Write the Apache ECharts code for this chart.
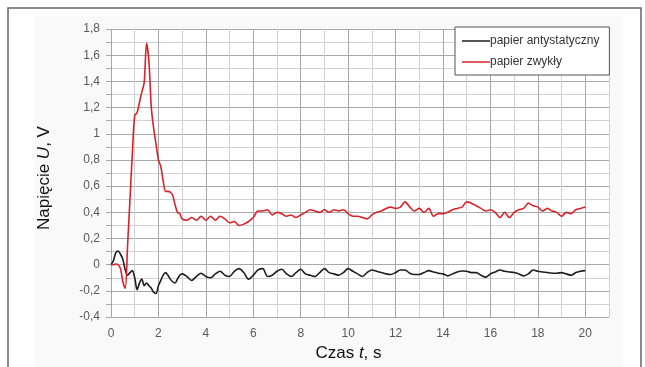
<!DOCTYPE html>
<html>
<head>
<meta charset="utf-8">
<script src="https://cdn.jsdelivr.net/npm/echarts@6/dist/echarts.min.js"></script>
<style>
  html, body { margin: 0; padding: 0; background: #fff; }
  #chart { width: 645px; height: 367px; }
</style>
</head>
<body>
<div id="chart"></div>
<script>
// time axis (s): 0.1 s step to 3 s, then 0.2 s
const times = [
  0, 0.1, 0.2, 0.3, 0.4, 0.5, 0.6, 0.7, 0.8, 0.9,
  1.0, 1.1, 1.2, 1.3, 1.4, 1.5, 1.6, 1.7, 1.8, 1.9,
  2.0, 2.1, 2.2, 2.3, 2.4, 2.5, 2.6, 2.7, 2.8, 2.9, 3.0,
  3.2, 3.4, 3.6, 3.8, 4.0, 4.2, 4.4, 4.6, 4.8, 5.0,
  5.2, 5.4, 5.6, 5.8, 6.0, 6.2, 6.4, 6.6, 6.8, 7.0,
  7.2, 7.4, 7.6, 7.8, 8.0, 8.2, 8.4, 8.6, 8.8, 9.0,
  9.2, 9.4, 9.6, 9.8, 10.0, 10.2, 10.4, 10.6, 10.8, 11.0,
  11.2, 11.4, 11.6, 11.8, 12.0, 12.2, 12.4, 12.6, 12.8, 13.0,
  13.2, 13.4, 13.6, 13.8, 14.0, 14.2, 14.4, 14.6, 14.8, 15.0,
  15.2, 15.4, 15.6, 15.8, 16.0, 16.2, 16.4, 16.6, 16.8, 17.0,
  17.2, 17.4, 17.6, 17.8, 18.0, 18.2, 18.4, 18.6, 18.8, 19.0,
  19.2, 19.4, 19.6, 19.8, 20.0
];

// papier antystatyczny (V)
const antystatyczny = [
  0.0, 0.03, 0.09, 0.105, 0.08, 0.04, -0.04, -0.08, -0.06, -0.045,
  -0.1, -0.19, -0.14, -0.11, -0.16, -0.14, -0.16, -0.18, -0.21, -0.22,
  -0.16, -0.12, -0.08, -0.06, -0.08, -0.11, -0.13, -0.14, -0.11, -0.08, -0.07,
  -0.09, -0.12, -0.09, -0.065, -0.09, -0.1, -0.07, -0.05, -0.08, -0.09,
  -0.05, -0.03, -0.06, -0.11, -0.08, -0.04, -0.03, -0.09, -0.08, -0.05,
  -0.035, -0.07, -0.09, -0.06, -0.035, -0.07, -0.08, -0.09, -0.06, -0.03,
  -0.06, -0.07, -0.08, -0.06, -0.03, -0.05, -0.07, -0.09, -0.06, -0.04,
  -0.05, -0.06, -0.07, -0.075, -0.06, -0.04, -0.04, -0.065, -0.075, -0.075,
  -0.06, -0.045, -0.055, -0.065, -0.07, -0.085, -0.07, -0.055, -0.048, -0.05,
  -0.06, -0.06, -0.08, -0.095, -0.07, -0.055, -0.04, -0.05, -0.055, -0.06,
  -0.07, -0.085, -0.07, -0.04, -0.05, -0.055, -0.06, -0.065, -0.065, -0.06,
  -0.07, -0.08, -0.06, -0.05, -0.045
];

// papier zwykły (V)
const zwykly = [
  0.0, 0.0, 0.005, 0.0, -0.03, -0.13, -0.18, 0.15, 0.5, 0.85,
  1.14, 1.16, 1.24, 1.32, 1.39, 1.69, 1.55, 1.2, 1.04, 0.92,
  0.8, 0.75, 0.64, 0.56, 0.56, 0.555, 0.53, 0.46, 0.4, 0.39, 0.35,
  0.34, 0.36, 0.34, 0.37, 0.34, 0.37, 0.34, 0.37, 0.35, 0.32,
  0.33, 0.30, 0.31, 0.33, 0.36, 0.41, 0.41, 0.42, 0.38, 0.40,
  0.39, 0.37, 0.38, 0.36, 0.38, 0.40, 0.42, 0.41, 0.40, 0.42,
  0.40, 0.42, 0.41, 0.42, 0.39, 0.37, 0.37, 0.36, 0.35, 0.38,
  0.40, 0.41, 0.43, 0.44, 0.43, 0.44, 0.48, 0.44, 0.41, 0.43,
  0.40, 0.43, 0.37, 0.39, 0.39, 0.40, 0.42, 0.43, 0.44, 0.48,
  0.47, 0.45, 0.43, 0.41, 0.42, 0.40, 0.36, 0.40, 0.36, 0.40,
  0.42, 0.43, 0.47, 0.45, 0.44, 0.41, 0.43, 0.41, 0.40, 0.37,
  0.40, 0.39, 0.42, 0.43, 0.44
];

const seriesNames = ['papier antystatyczny', 'papier zwykły'];
const xMin = 0, xMax = 21, xLabelMax = 20;
const yMin = -0.4, yMax = 1.8;

const pair = (ys) => times.map((t, i) => [t, ys[i]]);
const labelFont = "'Liberation Sans Narrow', 'Liberation Sans', sans-serif";

const chart = echarts.init(document.getElementById('chart'));
chart.setOption({
  animation: false,
  backgroundColor: '#fff',
  graphic: [
    { type: 'rect', shape: { x: 8, y: 8, width: 633, height: 370 }, style: { fill: 'none', stroke: '#666', lineWidth: 1.5 }, z: -10 },
    { type: 'rect', shape: { x: 35, y: 16, width: 588, height: 360 }, style: { fill: '#f9f9f9' }, z: -11 }
  ],
  grid: { left: 111, right: 36, top: 29, bottom: 47, show: true, backgroundColor: '#fff', borderWidth: 0 },
  legend: {
    left: 455, top: 27, orient: 'vertical',
    data: seriesNames,
    icon: 'rect',
    itemWidth: 28, itemHeight: 1.5, itemGap: 9,
    padding: [8, 10, 7, 7],
    borderColor: '#555', borderWidth: 1, borderRadius: 0,
    backgroundColor: '#fff',
    textStyle: { fontFamily: labelFont, fontSize: 12, color: '#333', padding: [0, 0, 0, -5] }
  },
  xAxis: {
    type: 'value', min: xMin, max: xMax, interval: 1,
    name: '{a|Czas }{i|t}{a|, s}',
    nameLocation: 'middle', nameGap: 24,
    nameTextStyle: {
      padding: [0, 23, 0, 0],
      rich: {
        a: { fontFamily: 'Liberation Sans', fontSize: 17, color: '#111' },
        i: { fontFamily: 'Liberation Sans', fontSize: 17, color: '#111', fontStyle: 'italic' }
      }
    },
    axisLine: { show: false },
    axisTick: { show: false },
    axisLabel: {
      margin: 11, fontFamily: labelFont, fontSize: 12, color: '#595959',
      formatter: (v) => (v % 2 === 0 && v <= xLabelMax ? String(v) : '')
    },
    splitLine: { show: true, lineStyle: { color: ['#a8a8a8', '#d2d2d2'], width: 1 } }
  },
  yAxis: {
    type: 'value', min: yMin, max: yMax, interval: 0.1,
    name: '{a|Napięcie }{i|U}{a|, V}',
    nameLocation: 'middle', nameRotate: 90, nameGap: 58,
    nameTextStyle: {
      padding: [0, 10, 0, 0],
      rich: {
        a: { fontFamily: 'Liberation Sans', fontSize: 17, color: '#111' },
        i: { fontFamily: 'Liberation Sans', fontSize: 17, color: '#111', fontStyle: 'italic' }
      }
    },
    axisLine: { show: false },
    axisTick: {
      show: true, length: 5, lineStyle: { color: '#a8a8a8' },
      interval: (i) => i % 2 === 0
    },
    axisLabel: {
      margin: 11, fontFamily: labelFont, fontSize: 12, color: '#595959',
      formatter: (v) => {
        const k = Math.round(v * 10);
        if (k % 2 !== 0) return '';
        return (k / 10).toString().replace('.', ',');
      }
    },
    splitLine: { show: true, lineStyle: { color: ['#a8a8a8', '#d2d2d2'], width: 1 } }
  },
  series: [
    {
      name: seriesNames[0], type: 'line', data: pair(antystatyczny),
      symbol: 'none', smooth: 0.3,
      lineStyle: { color: '#1e1e1e', width: 1.6 }, itemStyle: { color: '#1e1e1e' }
    },
    {
      name: seriesNames[1], type: 'line', data: pair(zwykly),
      symbol: 'none', smooth: 0.3,
      lineStyle: { color: '#d8232a', width: 1.6 }, itemStyle: { color: '#d8232a' }
    }
  ]
});
</script>
</body>
</html>
